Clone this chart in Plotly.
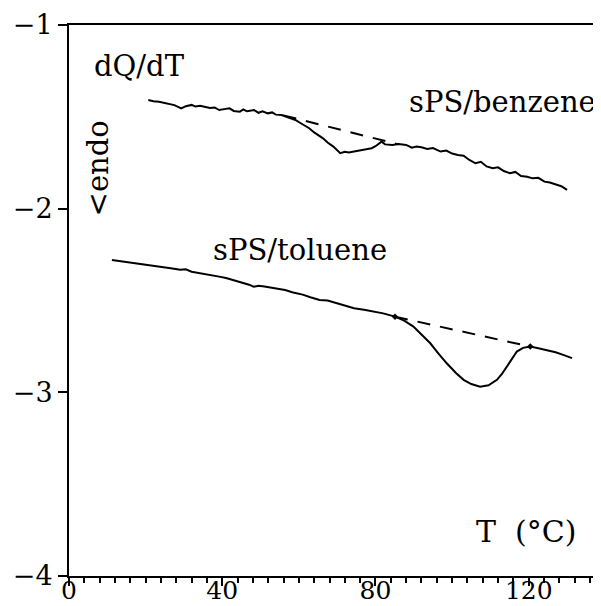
import plotly.graph_objects as go

# sPS/benzene trace
benz_T = [20.7, 22, 23.5, 24.8, 26, 27.5, 29.3, 30.5, 32, 33, 34.2, 35.6, 36.8, 38, 39.2, 40.5,
          41.9, 43, 44.6, 45.5, 46.5, 48.3, 49.5, 50.5, 51.9, 53, 54, 55.5, 56.5, 57.5, 59.1,
          60.5, 62.7, 64, 66.3, 67.5, 69, 70.8, 72, 73, 74.4, 76, 77.5, 79, 80, 81.6, 82.5,
          84.4, 86, 88, 89.5, 90.7, 92, 93.5, 95, 97, 98.5, 100, 101.5, 103, 104.5, 106.1,
          107.5, 109, 110.6, 112, 113.5, 115.1, 116.5, 118, 119.6, 121, 122.5, 124.1, 125.5,
          127, 128.5, 130]
benz_Q = [-1.408, -1.415, -1.418, -1.423, -1.430, -1.436, -1.454, -1.442, -1.435, -1.444,
          -1.440, -1.445, -1.452, -1.449, -1.463, -1.458, -1.454, -1.468, -1.472, -1.460,
          -1.470, -1.463, -1.478, -1.470, -1.481, -1.476, -1.488, -1.490, -1.497, -1.503,
          -1.517, -1.535, -1.562, -1.585, -1.617, -1.640, -1.662, -1.698, -1.690, -1.694,
          -1.689, -1.684, -1.680, -1.671, -1.660, -1.635, -1.650, -1.653, -1.648, -1.653,
          -1.668, -1.662, -1.666, -1.675, -1.670, -1.689, -1.684, -1.700, -1.708, -1.712,
          -1.735, -1.753, -1.745, -1.770, -1.780, -1.775, -1.795, -1.807, -1.800, -1.822,
          -1.826, -1.835, -1.832, -1.853, -1.858, -1.870, -1.878, -1.898]
benz_base_T = [56.0, 86.0]
benz_base_Q = [-1.492, -1.650]

# sPS/toluene trace
tol_T = [11.2, 13, 15, 17, 18.5, 20.2, 22, 24.7, 27, 29, 30.5, 32, 34, 36, 37.5, 39.2, 41, 43,
         45, 47, 48.2, 49.5, 51, 53, 55, 56.4, 58.5, 61, 63, 65.4, 67.5, 70, 72, 74.4, 77,
         79.5, 82, 85.1, 87.5, 89.9, 92, 94.3, 96.5, 98.6, 101, 103, 105, 107.3, 109.5,
         111.7, 113, 114.3, 115.6, 116.9, 118.5, 120.4, 122.5, 124.7, 127, 129, 131.3]
tol_Q = [-2.279, -2.284, -2.292, -2.296, -2.302, -2.306, -2.310, -2.316, -2.326, -2.333,
         -2.330, -2.343, -2.350, -2.355, -2.362, -2.370, -2.378, -2.390, -2.400, -2.414,
         -2.425, -2.420, -2.424, -2.432, -2.438, -2.443, -2.456, -2.468, -2.482, -2.497,
         -2.500, -2.515, -2.528, -2.542, -2.550, -2.560, -2.570, -2.588, -2.610, -2.642,
         -2.685, -2.733, -2.790, -2.842, -2.895, -2.932, -2.955, -2.969, -2.962, -2.932,
         -2.900, -2.860, -2.815, -2.778, -2.758, -2.751, -2.760, -2.769, -2.782, -2.796,
         -2.814]
tol_base_T = [85.1, 120.4]
tol_base_Q = [-2.588, -2.751]

x_ticks = [0, 40, 80, 120]
y_ticks = [-1, -2, -3, -4]

FONT = "DejaVu Serif"

fig = go.Figure()
line_style = dict(color="black", width=2)
fig.add_trace(go.Scatter(x=benz_T, y=benz_Q, mode="lines", line=line_style, showlegend=False))
fig.add_trace(go.Scatter(x=benz_base_T, y=benz_base_Q, mode="lines",
                         line=dict(color="black", width=2, dash="13px,10px"), showlegend=False))
fig.add_trace(go.Scatter(x=tol_T, y=tol_Q, mode="lines", line=line_style, showlegend=False))
fig.add_trace(go.Scatter(x=tol_base_T, y=tol_base_Q, mode="lines",
                         line=dict(color="black", width=2, dash="13px,10px"), showlegend=False))
fig.add_trace(go.Scatter(x=tol_base_T, y=tol_base_Q, mode="markers",
                         marker=dict(color="black", size=5, symbol="diamond"), showlegend=False))

ann_font = dict(family=FONT, size=29, color="black")
fig.add_annotation(x=6.0, y=-1.223, text="dQ/dT", showarrow=False, xanchor="left",
                   yanchor="middle", font=ann_font)
fig.add_annotation(x=138.2, y=-1.42, text="sPS/benzene", showarrow=False, xanchor="right",
                   yanchor="middle", font=ann_font)
fig.add_annotation(x=37.0, y=-2.225, text="sPS/toluene", showarrow=False, xanchor="left",
                   yanchor="middle", font=ann_font)
fig.add_annotation(x=132.8, y=-3.76, text="T&nbsp; (°C)", showarrow=False, xanchor="right",
                   yanchor="middle", font=dict(family=FONT, size=30, color="black"))
fig.add_annotation(x=7.6, y=-1.78, text="&lt;endo", showarrow=False, textangle=-90,
                   xanchor="center", yanchor="middle", font=ann_font)

# page body has an 8px margin, so the figure is shifted by 8px and sized to fit
fig.update_layout(
    width=593, height=598,
    margin=dict(l=61, r=1, t=17, b=30),
    paper_bgcolor="white", plot_bgcolor="white",
    font=dict(family=FONT, color="black"),
)
fig.update_xaxes(range=[0, 138.6], showline=True, linecolor="black", linewidth=2,
                 mirror=True, showgrid=False, zeroline=False, automargin=False,
                 tickmode="array", tickvals=x_ticks, ticks="outside", ticklen=8,
                 tickwidth=2, tickcolor="black", ticklabelstandoff=-17,
                 tickfont=dict(family=FONT, size=25, color="black"),
                 minor=dict(dtick=4, tick0=0, ticks="outside", ticklen=5, tickwidth=1.5,
                            tickcolor="black", showgrid=False))
fig.update_yaxes(range=[-4, -1], showline=True, linecolor="black", linewidth=2,
                 mirror=False, showgrid=False, zeroline=False, automargin=False,
                 tickmode="array", tickvals=y_ticks, ticks="outside", ticklen=9,
                 tickwidth=2, tickcolor="black",
                 tickfont=dict(family=FONT, size=27, color="black"))

fig.write_html("out.html")
